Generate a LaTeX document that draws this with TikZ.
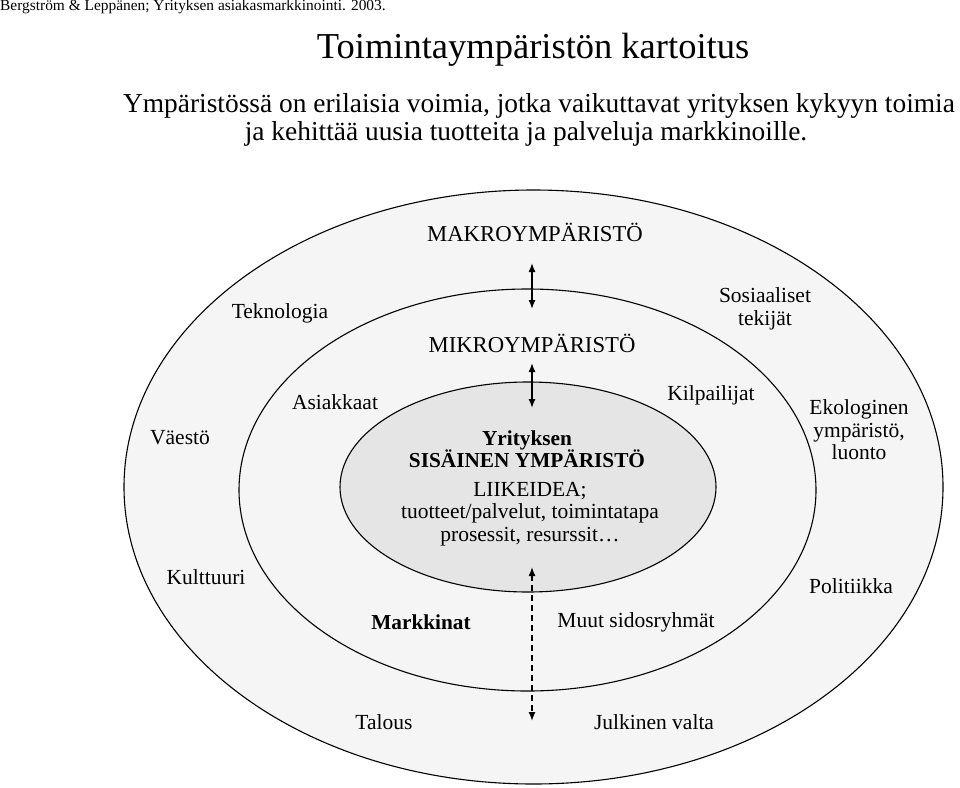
\documentclass[tikz,border=0pt]{standalone}
\usepackage{fontspec}
\setmainfont{Liberation Serif}
\usetikzlibrary{arrows.meta}
\begin{document}
\begin{tikzpicture}[x=1pt,y=-1pt,
  ring/.style={draw=black,line width=1.1pt},
  lbl/.style={font=\fontsize{21.5}{22.5}\selectfont,align=center,inner sep=0pt},
  biglbl/.style={lbl,font=\fontsize{22.7}{24}\selectfont},
  blbl/.style={lbl,font=\fontsize{21.3}{22.5}\selectfont\bfseries},
  arr/.style={line width=1.4pt,{Latex[length=9pt,width=7pt]}-{Latex[length=9pt,width=7pt]}},
  darr/.style={arr,dash pattern=on 6pt off 4pt}]
\useasboundingbox (0,0) rectangle (960,787);
\fill[white] (0,0) rectangle (960,787);
% ellipses
\draw[ring,fill=black!4] (533.5,487) ellipse [x radius=409.5,y radius=297];
\draw[ring,fill=black!4] (527.5,490) ellipse [x radius=288.5,y radius=201];
\draw[ring,fill=black!10] (528,487) ellipse [x radius=188,y radius=105];
% header and title
\node[anchor=west,inner sep=0pt,font=\fontsize{15.4}{17}\selectfont] (hdr) at (0,7) {Bergström \& Leppänen; Yrityksen asiakasmarkkinointi. 2003.};
\node[inner sep=0pt,font=\fontsize{36.5}{40}\selectfont] (title) at (533,50) {Toimintaympäristön kartoitus};
\node[inner sep=0pt,font=\fontsize{27.4}{30}\selectfont] (sub1) at (539,106) {Ympäristössä on erilaisia voimia, jotka vaikuttavat yrityksen kykyyn toimia};
\node[inner sep=0pt,font=\fontsize{27.4}{30}\selectfont] (sub2) at (526,134) {ja kehittää uusia tuotteita ja palveluja markkinoille.};
% labels
\node[biglbl] (makro) at (535,232) {MAKROYMPÄRISTÖ};
\node[lbl] (tekno) at (280,313) {Teknologia};
\node[lbl] (sosi) at (765,309) {Sosiaaliset\\tekijät};
\node[biglbl] (mikro) at (532,343) {MIKROYMPÄRISTÖ};
\node[lbl] (asiak) at (335,402) {Asiakkaat};
\node[lbl] (kilp) at (711,395) {Kilpailijat};
\node[lbl] (vaesto) at (180,438) {Väestö};
\node[lbl] (ekol) at (859,430) {Ekologinen\\ympäristö,\\luonto};
\node[blbl] (yrit) at (527,449) {Yrityksen\\SISÄINEN YMPÄRISTÖ};
\node[lbl] (liik) at (530,514) {LIIKEIDEA;\\tuotteet/palvelut, toimintatapa\\prosessit, resurssit…};
\node[lbl] (kult) at (206,577) {Kulttuuri};
\node[lbl] (polit) at (851,586) {Politiikka};
\node[blbl] (markk) at (421,622) {Markkinat};
\node[lbl] (muut) at (636,622) {Muut sidosryhmät};
\node[lbl] (talous) at (384,722) {Talous};
\node[lbl] (julk) at (654,722) {Julkinen valta};
% arrows
\coordinate (a1t) at (532,263);
\coordinate (a1b) at (532,309);
\coordinate (a2t) at (532,363);
\coordinate (a2b) at (532,408);
\coordinate (a3t) at (532,567);
\coordinate (a3b) at (532,721);
\draw[arr] (a1t) -- (a1b);
\draw[arr] (a2t) -- (a2b);
\draw[darr] (a3t) -- (a3b);
\end{tikzpicture}
\end{document}
